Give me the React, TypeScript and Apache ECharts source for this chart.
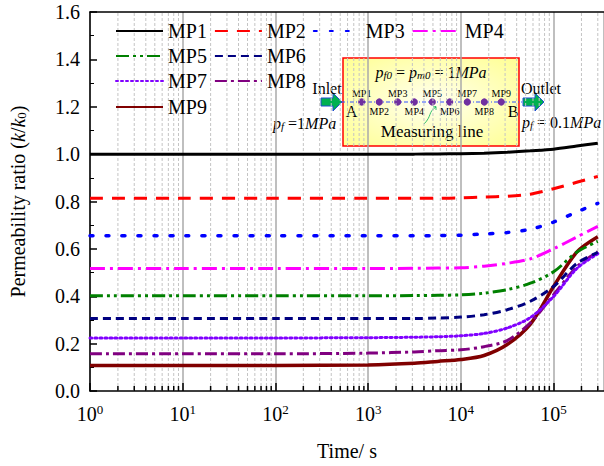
import React, { useEffect, useRef } from "react";
import * as echarts from "echarts";

const times = [1, 10, 100, 1000, 3162, 5623, 10000, 17783, 31623, 56234, 100000, 177828, 300000];
const names = ["MP1", "MP2", "MP3", "MP4", "MP5", "MP6", "MP7", "MP8", "MP9"];
const mp1 = [1.0, 1.0, 1.0, 1.0, 1.0, 1.001, 1.002, 1.004, 1.008, 1.014, 1.021, 1.034, 1.046];
const mp2 = [0.814, 0.814, 0.814, 0.814, 0.814, 0.814, 0.815, 0.819, 0.822, 0.831, 0.854, 0.881, 0.906];
const mp3 = [0.655, 0.655, 0.655, 0.655, 0.655, 0.656, 0.658, 0.663, 0.669, 0.683, 0.713, 0.756, 0.792];
const mp4 = [0.517, 0.517, 0.517, 0.517, 0.518, 0.519, 0.52, 0.527, 0.539, 0.558, 0.6, 0.65, 0.695];
const mp5 = [0.402, 0.402, 0.402, 0.402, 0.403, 0.404, 0.406, 0.413, 0.428, 0.455, 0.503, 0.586, 0.632];
const mp6 = [0.306, 0.306, 0.306, 0.306, 0.306, 0.308, 0.312, 0.322, 0.343, 0.379, 0.441, 0.538, 0.585];
const mp7 = [0.224, 0.224, 0.224, 0.225, 0.227, 0.229, 0.233, 0.243, 0.266, 0.31, 0.399, 0.517, 0.58];
const mp8 = [0.157, 0.157, 0.157, 0.16, 0.165, 0.17, 0.174, 0.187, 0.213, 0.288, 0.406, 0.524, 0.588];
const mp9 = [0.108, 0.108, 0.108, 0.11, 0.117, 0.125, 0.133, 0.15, 0.196, 0.282, 0.441, 0.586, 0.651];
const allValues = [mp1, mp2, mp3, mp4, mp5, mp6, mp7, mp8, mp9];
const colors = ["#000000", "#ff0000", "#0000ff", "#ff00ff", "#008000", "#000080", "#8000ff", "#800080", "#800000"];
const dashes: any[] = ["solid", [13, 9], [3, 13], [15, 5, 3, 5], [13, 4, 3, 4, 3, 4], [8, 5], [2, 3], [12, 4, 3, 4], "solid"];
const widths = [3, 3, 3.5, 3, 3, 3, 3, 3, 3.5];

const xMin = 1;
const xMax = 350000;
const yMin = 0;
const yMax = 1.6;
const minorTicks: number[] = [];
for (let d = 1; d <= 100000; d *= 10) {
  for (let m = 2; m <= 9; m++) {
    if (m * d < xMax) minorTicks.push(m * d);
  }
}
const mpDotX = [361.7, 379.3, 397.7, 414.3, 432.3, 449.7, 467.3, 484.3, 501.3];

const FONT = "Liberation Serif";

export default function App() {
  const ref = useRef<HTMLDivElement>(null);
  useEffect(() => {
    if (!ref.current) return;
    const chart = echarts.init(ref.current, null, { renderer: "svg" });

    const lineSeries = names.map((n, i) => ({
      name: n,
      type: "line",
      xAxisIndex: 0,
      data: times.map((t, j) => [t, allValues[i][j]]),
      smooth: 0.3,
      symbol: "none",
      z: 3 + (names.length - i),
      lineStyle: { color: colors[i], width: widths[i], type: dashes[i], cap: i === 2 || i === 6 ? "round" : "butt" },
      itemStyle: { color: "rgba(0,0,0,0)", borderWidth: 0 },
    }));

    const gridSeries = {
      type: "custom",
      xAxisIndex: 0,
      silent: true,
      z: 1,
      data: minorTicks.map((t) => [t, 0]),
      encode: { x: 0, y: 1 },
      renderItem: (_p: any, api: any) => {
        const t = api.value(0);
        const b = api.coord([t, yMin]);
        const top = api.coord([t, yMax]);
        return {
          type: "group",
          children: [
            {
              type: "line",
              shape: { x1: b[0], y1: b[1], x2: top[0], y2: top[1] },
              style: { stroke: "#c4c4c4", lineWidth: 1, lineDash: [3, 2] },
            },
            {
              type: "line",
              shape: { x1: b[0], y1: b[1], x2: b[0], y2: b[1] - 5 },
              style: { stroke: "#000", lineWidth: 1.5 },
            },
          ],
        };
      },
    };

    const legendBase = {
      padding: 0,
      itemWidth: 47,
      itemHeight: 14,
      itemGap: 7,
      itemStyle: { opacity: 0 },
      formatter: "{a|{name}}",
      textStyle: {
        fontFamily: FONT,
        fontSize: 20,
        color: "#000",
        rich: { a: { fontFamily: FONT, fontSize: 20, color: "#000", lineHeight: 22 } },
      },
    };

    const sub = { fontFamily: FONT, fontSize: 11, fontStyle: "italic", verticalAlign: "bottom", lineHeight: 10, fill: "#000" };
    const ital = { fontFamily: FONT, fontSize: 16, fontStyle: "italic", fill: "#000" };
    const norm = { fontFamily: FONT, fontSize: 16, fill: "#000" };

    const txt = (x: number, y: number, text: string, size: number) => ({
      type: "text",
      x,
      y,
      style: {
        text: "{t|" + text + "}",
        align: "center",
        verticalAlign: "middle",
        rich: { t: { fontFamily: FONT, fontSize: size, fill: "#000" } },
      },
    });

    const arrow = (x0: number) => ({
      type: "polygon",
      shape: {
        points: [
          [x0, 98], [x0 + 12, 98], [x0 + 12, 93], [x0 + 21, 102], [x0 + 12, 111], [x0 + 12, 106], [x0, 106],
        ],
      },
      style: { fill: "#00b050", stroke: "#1f4fd0", lineWidth: 1 },
    });

    const graphics: any[] = [
      {
        type: "rect",
        shape: { x: 343, y: 58, width: 176, height: 88 },
        style: {
          fill: new echarts.graphic.RadialGradient(0.5, 0.5, 0.75, [
            { offset: 0, color: "#fffff0" },
            { offset: 1, color: "#ffff8c" },
          ]),
          stroke: "#ff0000",
          lineWidth: 1.5,
        },
      },
      {
        type: "text",
        x: 431,
        y: 72,
        style: {
          text: "{i|p}{s|f0}{n| = }{i|p}{s|m0}{n| = 1}{i|MPa}",
          align: "center",
          verticalAlign: "middle",
          rich: { i: ital, n: norm, s: sub },
        },
      },
      {
        type: "line",
        shape: { x1: 341, y1: 102, x2: 522, y2: 102 },
        style: { stroke: "#3050ff", lineWidth: 1, lineDash: [4, 2, 1, 2] },
      },
      ...mpDotX.map((x) => ({ type: "circle", shape: { cx: x, cy: 102, r: 3.6 }, style: { fill: "#7030a0" } })),
      ...mpDotX.map((x, i) => txt(x, i % 2 === 0 ? 93 : 111, names[i], 10)),
      txt(351.5, 111, "A", 16),
      txt(513, 111, "B", 16),
      txt(432, 131.5, "Measuring line", 17),
      {
        type: "bezierCurve",
        shape: { x1: 424, y1: 124, cpx1: 432, cpy1: 116, cpx2: 428, cpy2: 112, x2: 436, y2: 107 },
        style: { stroke: "#00b050", lineWidth: 0.8, fill: null },
      },
      {
        type: "polyline",
        shape: { points: [[433, 107], [436, 106.5], [436, 110]] },
        style: { stroke: "#00b050", lineWidth: 0.8, fill: null },
      },
      arrow(321),
      arrow(523),
      txt(327, 88, "Inlet", 16),
      txt(541, 88, "Outlet", 16),
      {
        type: "text",
        x: 273,
        y: 123,
        style: { text: "{i|p}{s|f}{n| =1}{i|MPa}", align: "left", verticalAlign: "middle", rich: { i: ital, n: norm, s: sub } },
      },
      {
        type: "text",
        x: 522,
        y: 122,
        style: { text: "{i|p}{s|f}{n| = 0.1}{i|MPa}", align: "left", verticalAlign: "middle", rich: { i: ital, n: norm, s: sub } },
      },
    ];

    chart.setOption({
      animation: false,
      backgroundColor: "#ffffff",
      textStyle: { fontFamily: FONT },
      grid: { left: 85, right: 0, top: 12, bottom: 68, containLabel: false },
      legend: [
        { ...legendBase, data: ["MP1", "MP2", "MP3", "MP4"], left: 115, top: 21 },
        { ...legendBase, data: ["MP5", "MP6"], left: 115, top: 46 },
        { ...legendBase, data: ["MP7", "MP8"], left: 115, top: 71 },
        { ...legendBase, data: ["MP9"], left: 115, top: 97 },
      ],
      xAxis: [
        {
          type: "log",
          logBase: 10,
          min: xMin,
          max: xMax,
          interval: 1,
          name: "Time/ s",
          nameLocation: "middle",
          nameGap: 50,
          nameTextStyle: { fontFamily: FONT, fontSize: 20, color: "#000" },
          axisLine: { lineStyle: { color: "#000", width: 1.5 } },
          axisTick: { inside: true, length: 8, lineStyle: { color: "#000", width: 1.5 } },
          minorTick: { show: false },
          splitLine: { show: true, lineStyle: { color: "#aaaaaa", width: 1.5 } },
          axisLabel: {
            margin: 12,
            showMaxLabel: false,
            formatter: (v: number) => "{b|10}{s|" + Math.round(Math.log10(v)) + "}",
            rich: {
              b: { fontFamily: FONT, fontSize: 20, color: "#000", lineHeight: 22 },
              s: { fontFamily: FONT, fontSize: 13, color: "#000", verticalAlign: "top", lineHeight: 13 },
            },
          },
        },
        {
          type: "log",
          logBase: 10,
          min: xMin,
          max: xMax,
          interval: 1,
          position: "top",
          axisLine: { show: true, lineStyle: { color: "#000", width: 1.5 } },
          axisTick: { show: false },
          axisLabel: { show: false },
          splitLine: { show: false },
        },
      ],
      yAxis: {
        type: "value",
        min: yMin,
        max: yMax,
        interval: 0.2,
        name: "{n|Permeability ratio (}{i|k}{n|/}{i|k}{s|0}{n|)}",
        nameLocation: "middle",
        nameGap: 62,
        nameTextStyle: {
          rich: {
            n: { fontFamily: FONT, fontSize: 20, color: "#000" },
            i: { fontFamily: FONT, fontSize: 20, fontStyle: "italic", color: "#000" },
            s: { fontFamily: FONT, fontSize: 13, color: "#000", verticalAlign: "bottom", lineHeight: 10 },
          },
        },
        axisLine: { show: true, lineStyle: { color: "#000", width: 1.5 } },
        axisTick: { inside: true, length: 7, lineStyle: { color: "#000", width: 1.5 } },
        minorTick: { show: true, splitNumber: 2, length: 4, lineStyle: { color: "#000", width: 1 } },
        splitLine: { show: false },
        axisLabel: {
          margin: 10,
          formatter: (v: number) => "{v|" + v.toFixed(1) + "}",
          rich: { v: { fontFamily: FONT, fontSize: 20, color: "#000" } },
        },
      },
      series: [gridSeries, ...lineSeries],
      graphic: graphics,
    });
    return () => chart.dispose();
  }, []);
  return <div ref={ref} style={{ width: 604, height: 466, position: "absolute", left: 0, top: 0 }} />;
}
